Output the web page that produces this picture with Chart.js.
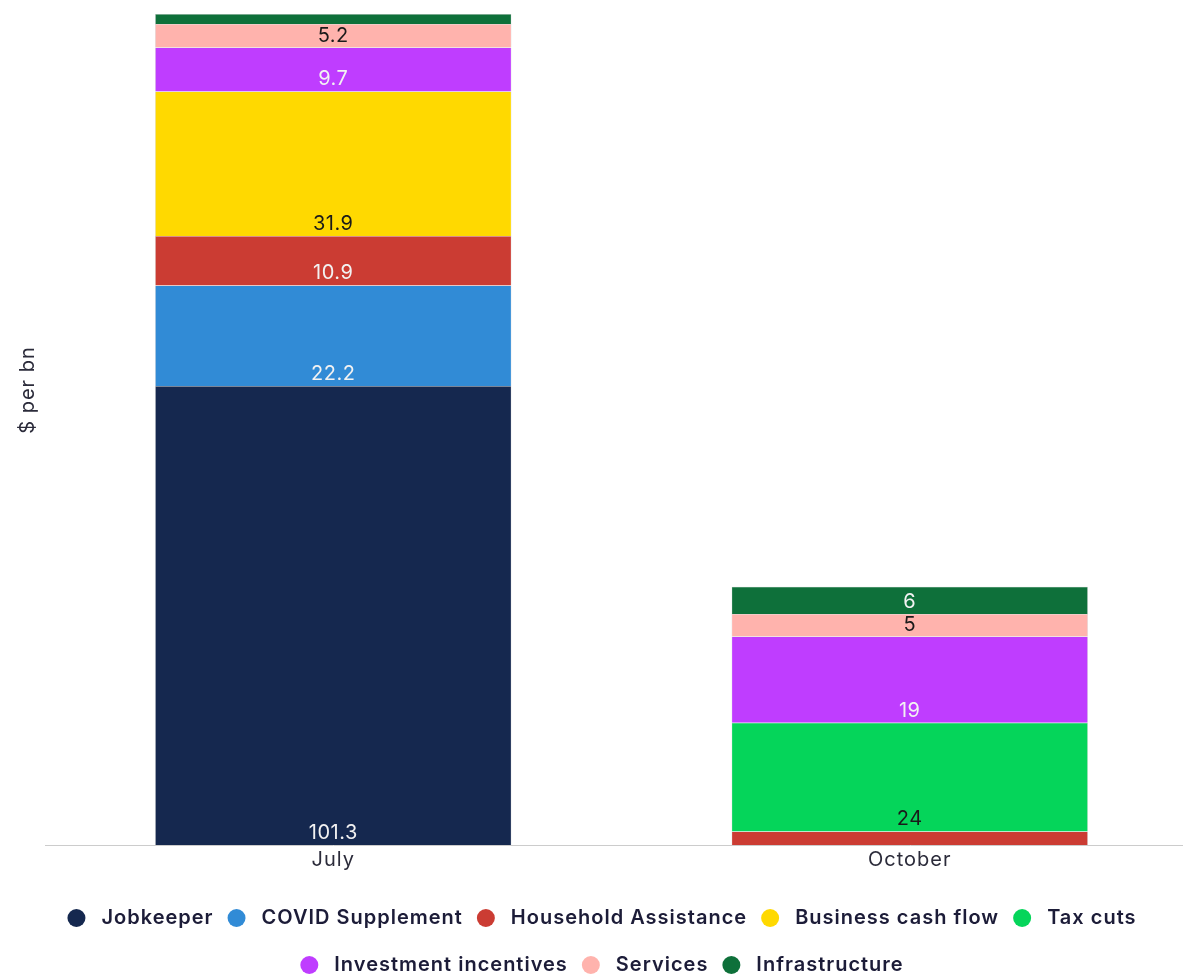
<!DOCTYPE html>
<html>
<head>
<meta charset="utf-8">
<script src="https://cdn.jsdelivr.net/npm/chart.js@4.4.1/dist/chart.umd.min.js"></script>
<style>
  html, body { margin: 0; padding: 0; background: #fff; overflow: hidden; }
  #wrap { width: 1198px; height: 974px; position: relative; }
</style>
</head>
<body>
<div id="wrap"><canvas id="c"></canvas></div>
<script>
const categories = ["July", "October"];
const jobkeeper = [101.3, null];
const covidSupplement = [22.2, null];
const householdAssistance = [10.9, 3];
const businessCashFlow = [31.9, null];
const taxCuts = [null, 24];
const investmentIncentives = [9.7, 19];
const services = [5.2, 5];
const infrastructure = [2.2, 6];
const yAxisTitle = "$ per bn";

const series = [
  { label: "Jobkeeper", data: jobkeeper, color: "#15284f", text: "#f2f2f2" },
  { label: "COVID Supplement", data: covidSupplement, color: "#318bd6", text: "#f2f2f2" },
  { label: "Household Assistance", data: householdAssistance, color: "#cb3c33", text: "#f2f2f2" },
  { label: "Business cash flow", data: businessCashFlow, color: "#ffd900", text: "#1a1a1a" },
  { label: "Tax cuts", data: taxCuts, color: "#05d55a", text: "#1a1a1a" },
  { label: "Investment incentives", data: investmentIncentives, color: "#bf3dff", text: "#f2f2f2" },
  { label: "Services", data: services, color: "#ffb3ad", text: "#1a1a1a" },
  { label: "Infrastructure", data: infrastructure, color: "#0e703a", text: "#f2f2f2" }
];

const totals = categories.map((_, i) => series.reduce((s, d) => s + (d.data[i] || 0), 0));
const yMax = Math.max(...totals);

const FONT = "'Inter', 'Open Sans', sans-serif";

// Letter spacing to approximate the wide geometric font of the original
const spacingPlugin = {
  id: 'spacing',
  beforeDraw(chart) { chart.ctx.letterSpacing = '1px'; }
};

const labelPlugin = {
  id: 'segLabels',
  afterDatasetsDraw(chart) {
    const ctx = chart.ctx;
    ctx.save();
    ctx.letterSpacing = '0.5px';
    ctx.font = "400 20px " + FONT;
    ctx.textAlign = 'center';
    ctx.textBaseline = 'middle';
    chart.data.datasets.forEach((ds, di) => {
      const meta = chart.getDatasetMeta(di);
      meta.data.forEach((el, i) => {
        const v = ds.data[i];
        if (v == null || v < 4) return;
        const base = el.base;
        const top = el.y;
        let y = base - 12;
        if (y < (top + base) / 2) y = (top + base) / 2;
        ctx.fillStyle = series[di].text;
        ctx.fillText(String(v), el.x, y);
      });
    });
    ctx.restore();
  }
};

const yTitlePlugin = {
  id: 'yTitle',
  afterDraw(chart) {
    const ctx = chart.ctx;
    ctx.save();
    ctx.letterSpacing = '1px';
    ctx.font = "400 20px " + FONT;
    ctx.fillStyle = '#2b2b3a';
    ctx.textAlign = 'center';
    ctx.textBaseline = 'middle';
    ctx.translate(28, 390);
    ctx.rotate(-Math.PI / 2);
    ctx.fillText(yAxisTitle, 0, 0);
    ctx.restore();
  }
};

const legendPlugin = {
  id: 'customLegend',
  afterDraw(chart) {
    const ctx = chart.ctx;
    ctx.save();
    ctx.letterSpacing = '1px';
    ctx.font = "600 20px " + FONT;
    ctx.textBaseline = 'middle';
    ctx.textAlign = 'left';
    const items = chart.data.datasets.map(ds => ({
      label: ds.label, color: ds.backgroundColor, w: 34 + ctx.measureText(ds.label).width
    }));
    const maxW = 1110, gap = 14;
    const rows = [[]];
    let cur = 0;
    items.forEach(it => {
      const add = (rows[rows.length - 1].length ? gap : 0) + it.w;
      if (cur + add > maxW && rows[rows.length - 1].length) { rows.push([it]); cur = it.w; }
      else { rows[rows.length - 1].push(it); cur += add; }
    });
    const centerX = 602;
    const rowY = [918, 965];
    rows.forEach((row, ri) => {
      const rw = row.reduce((s, it) => s + it.w, 0) + gap * (row.length - 1);
      let x = centerX - rw / 2;
      const y = rowY[ri] !== undefined ? rowY[ri] : rowY[0] + ri * 47;
      row.forEach(it => {
        ctx.beginPath();
        ctx.fillStyle = it.color;
        ctx.arc(x + 9, y, 9, 0, Math.PI * 2);
        ctx.fill();
        ctx.fillStyle = '#1c1c38';
        ctx.fillText(it.label, x + 34, y);
        x += it.w + gap;
      });
    });
    ctx.restore();
  }
};

new Chart(document.getElementById('c'), {
  type: 'bar',
  data: {
    labels: categories,
    datasets: series.map(s => ({
      label: s.label,
      data: s.data,
      backgroundColor: s.color,
      borderColor: 'rgba(160,160,160,0.6)',
      borderWidth: 0.5,
      categoryPercentage: 1,
      barPercentage: 0.618
    }))
  },
  options: {
    responsive: true,
    maintainAspectRatio: false,
    animation: false,
    layout: { padding: { top: 14, left: 45, right: 0, bottom: 99 } },
    plugins: {
      tooltip: { enabled: false },
      legend: { display: false }
    },
    scales: {
      x: {
        stacked: true,
        grid: { display: false, drawTicks: false },
        border: { display: true, color: '#cccccc' },
        ticks: { color: '#2b2b3a', font: { family: FONT, size: 20 }, padding: 3 }
      },
      y: {
        stacked: true,
        min: 0,
        max: yMax,
        display: false
      }
    }
  },
  plugins: [spacingPlugin, labelPlugin, yTitlePlugin, legendPlugin]
});
</script>
</body>
</html>
